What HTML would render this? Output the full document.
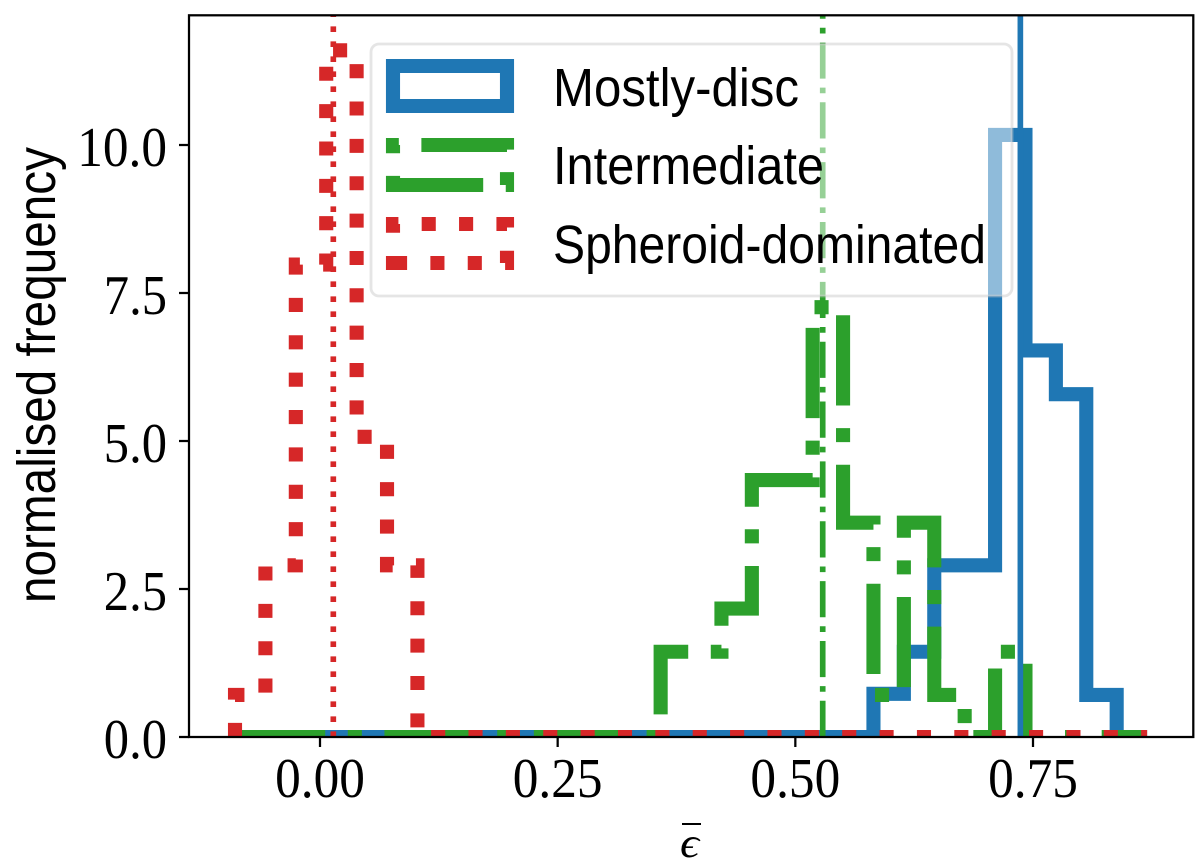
<!DOCTYPE html>
<html lang="en">
<head>
<meta charset="utf-8">
<title>Normalised frequency histogram</title>
<style>
html,body{margin:0;padding:0;background:#fff;}
svg{display:block;}
.tick-label{font-family:"Liberation Serif",serif;font-size:56px;fill:#000;}
.legend-label{font-family:"Liberation Sans",sans-serif;font-size:54px;fill:#000;}
</style>
</head>
<body>
<svg id="chart" xmlns="http://www.w3.org/2000/svg" width="1200" height="863" viewBox="0 0 1200 863">
  <defs>
    <clipPath id="plot-clip"><rect x="189" y="15.3" width="1004.3" height="721.7"/></clipPath>
  </defs>
  <rect x="0" y="0" width="1200" height="863" fill="#fff"/>
  <g id="plot-area" clip-path="url(#plot-clip)"></g>
  <g id="axes-layer"></g>

  <g>
    <rect x="371" y="44" width="641" height="252" rx="8" ry="8" fill="#fff" fill-opacity="0.5" stroke="#ccc" stroke-opacity="0.5" stroke-width="2.8"/>
    <path d="M393 106 H507 V66 H393 Z" fill="none" stroke="#1f77b4" stroke-width="14.1" stroke-linejoin="miter"/>
    <text class="legend-label" x="553" y="106" textLength="246" lengthAdjust="spacingAndGlyphs">Mostly-disc</text>
    <path d="M393 185 H507 V145 H393 Z" fill="none" stroke="#2ca02c" stroke-width="14.1" stroke-dasharray="90.2 22.56 14.1 22.56" stroke-linejoin="miter"/>
    <text class="legend-label" x="553" y="184" textLength="271" lengthAdjust="spacingAndGlyphs">Intermediate</text>
    <path d="M393 263 H507 V224 H393 Z" fill="none" stroke="#d62728" stroke-width="14.1" stroke-dasharray="14.1 23.27" stroke-linejoin="miter"/>
    <text class="legend-label" x="553" y="263" textLength="433" lengthAdjust="spacingAndGlyphs">Spheroid-dominated</text>
  </g>
</svg>
<script>
// Histogram data: one normalised frequency per bin
const firstBinEdge = -0.0894;
const binWidth = 0.03198;
const mostlyDisc = [0,0,0,0,0,0,0,0,0,0,0,0,0,0,0,0,0,0,0,0,0,0.73,1.44,2.9,2.9,10.17,6.53,5.79,0.71,0];
const intermediate = [0,0,0,0,0,0,0,0,0,0,0,0,0,0,1.44,1.44,2.17,4.34,4.34,7.26,3.62,0.71,3.62,0.71,0,1.44,0,0,0,0];
const spheroidDominated = [0.71,2.9,7.98,11.6,5.07,2.9,0,0,0,0,0,0,0,0,0,0,0,0,0,0,0,0,0,0,0,0,0,0,0,0];
// Series means
const meanMostlyDisc = 0.7367;
const meanIntermediate = 0.5288;
const meanSpheroidDominated = 0.014;
// Ticks
const xTickValues = [0, 0.25, 0.5, 0.75];
const xTickLabels = ["0.00", "0.25", "0.50", "0.75"];
const yTickValues = [0, 2.5, 5, 7.5, 10];
const yTickLabels = ["0.0", "2.5", "5.0", "7.5", "10.0"];

const NS = "http://www.w3.org/2000/svg";
const plot = { left: 189, right: 1193.3, top: 15.3, bottom: 737 };
const xScale = v => 320 + 950.67 * v;
const yScale = v => 737 - 59.2 * v;
const HIST_W = 14.1;
const VLINE_W = 5.65;
const plotArea = document.getElementById("plot-area");
const axesLayer = document.getElementById("axes-layer");

function make(tag, attrs, parent) {
  const el = document.createElementNS(NS, tag);
  for (const k in attrs) el.setAttribute(k, attrs[k]);
  parent.appendChild(el);
  return el;
}

function stepPath(values) {
  let d = "M" + xScale(firstBinEdge) + " " + yScale(0);
  values.forEach((v, i) => {
    d += " L" + xScale(firstBinEdge + i * binWidth) + " " + yScale(v);
    d += " L" + xScale(firstBinEdge + (i + 1) * binWidth) + " " + yScale(v);
  });
  d += " L" + xScale(firstBinEdge + values.length * binWidth) + " " + yScale(0);
  return d;
}

function drawHist(values, color, dash, name) {
  const p = make("path", { d: stepPath(values), fill: "none", stroke: color, "stroke-width": HIST_W, "stroke-linejoin": "miter", "stroke-dasharray": dash }, plotArea);
  
  
}

function drawMean(value, color, dash, name) {
  const l = make("line", { x1: xScale(value), x2: xScale(value), y1: plot.bottom, y2: plot.top, stroke: color, "stroke-width": VLINE_W, "stroke-dasharray": dash }, plotArea);
  
  
}

drawHist(mostlyDisc, "#1f77b4", "none", "hist-mostly-disc");
drawHist(intermediate, "#2ca02c", "90.2 22.56 14.1 22.56", "hist-intermediate");
drawHist(spheroidDominated, "#d62728", "14.1 23.27", "hist-spheroid-dominated");
drawMean(meanMostlyDisc, "#1f77b4", "none", "mean-line-mostly-disc");
drawMean(meanIntermediate, "#2ca02c", "36.2 9 5.65 9", "mean-line-intermediate");
drawMean(meanSpheroidDominated, "#d62728", "5.65 9.35", "mean-line-spheroid-dominated");

// Width of a tick label, matched to the Computer Modern metrics of the reference
function labelWidth(s) {
  return (s.length - 1) * 26.6 + 10;
}

xTickValues.forEach((v, i) => {
  const tick = make("line", { x1: xScale(v), x2: xScale(v), y1: plot.bottom, y2: plot.bottom + 10, stroke: "#000", "stroke-width": 2.25 }, axesLayer);
  
  
  const s = xTickLabels[i];
  const w = labelWidth(s);
  const t = make("text", { class: "tick-label", x: xScale(v) - w / 2, y: 797, textLength: w, lengthAdjust: "spacingAndGlyphs" }, axesLayer);
  t.textContent = s;
  
  
});

yTickValues.forEach((v, i) => {
  const tick = make("line", { x1: plot.left, x2: plot.left - 10, y1: yScale(v), y2: yScale(v), stroke: "#000", "stroke-width": 2.25 }, axesLayer);
  
  
  const s = yTickLabels[i];
  const w = labelWidth(s);
  const t = make("text", { class: "tick-label", x: 167 - w, y: yScale(v) + 21, textLength: w, lengthAdjust: "spacingAndGlyphs" }, axesLayer);
  t.textContent = s;
  
  
});

const frame = make("rect", { x: plot.left, y: plot.top, width: plot.right - plot.left, height: plot.bottom - plot.top, fill: "none", stroke: "#000", "stroke-width": 2.25 }, axesLayer);



const yTitle = make("text", { class: "legend-label", transform: "translate(55 375) rotate(-90)", x: -228, y: 0, textLength: 456, lengthAdjust: "spacingAndGlyphs" }, axesLayer);
yTitle.textContent = "normalised frequency";



const xTitle = make("text", { x: 680, y: 857, "font-family": '"Liberation Serif","DejaVu Serif",serif', "font-style": "italic", "font-size": 42, fill: "#000", textLength: 19, lengthAdjust: "spacingAndGlyphs" }, axesLayer);
xTitle.textContent = "\u03F5";



const xBar = make("line", { x1: 682, x2: 701, y1: 824, y2: 824, stroke: "#000", "stroke-width": 2 }, axesLayer);


</script>
</body>
</html>
